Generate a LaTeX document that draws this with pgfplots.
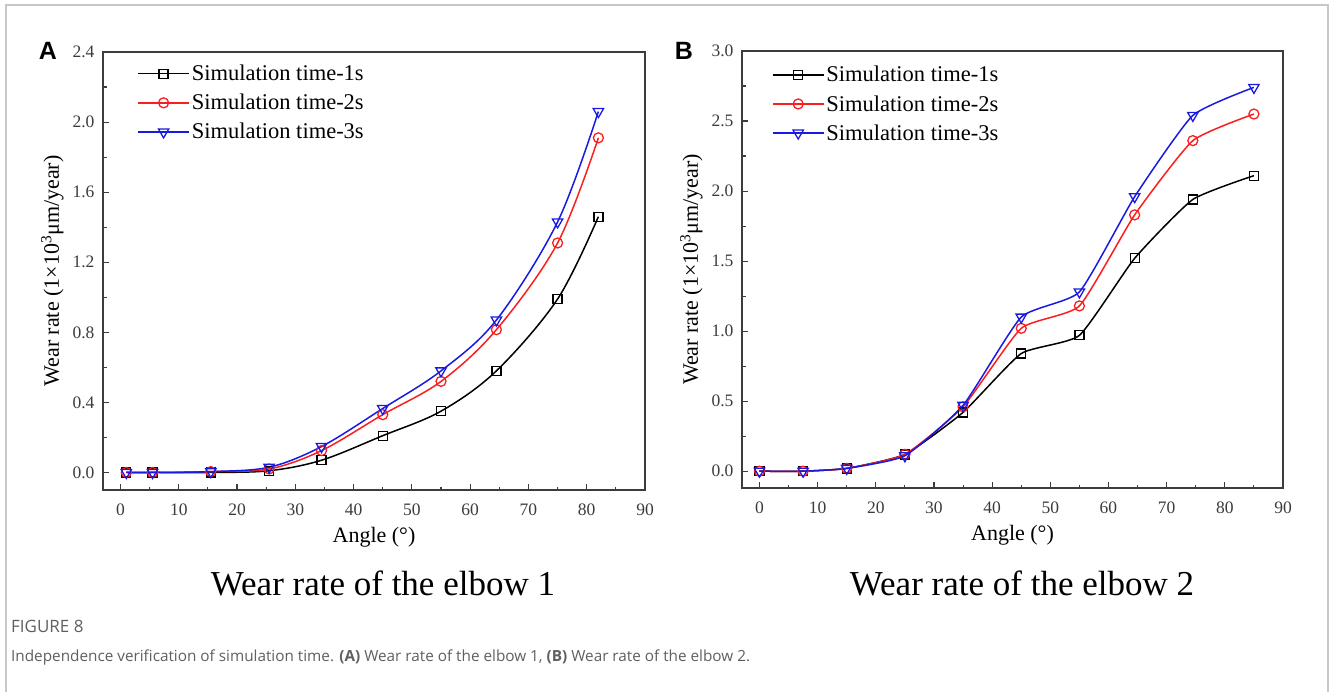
\documentclass[border=0pt]{standalone}
\usepackage{pgfplots}
\pgfplotsset{compat=1.18}
\usepackage{fontspec}
\setmainfont{Liberation Serif}
\newfontfamily\panelfont{Liberation Sans}
\newfontfamily\capfont{Open Sans}
\definecolor{axgray}{RGB}{60,60,60}
\definecolor{capgray}{RGB}{95,95,95}
\definecolor{myred}{RGB}{250,30,30}
\definecolor{myblue}{RGB}{25,25,225}

\pgfplotstableread{
x y1 y2 y3
1    0.00 0.00 0.00
5.5  0.00 0.00 0.00
15.5 0.00 0.005 0.005
25.5 0.01 0.02 0.03
34.5 0.07 0.125 0.148
45   0.21 0.33 0.365
55   0.35 0.52 0.58
64.5 0.58 0.815 0.87
75   0.99 1.31 1.43
82   1.46 1.91 2.06
}\dataA

\pgfplotstableread{
x y1 y2 y3
0    0.00 0.00 0.00
7.5  0.00 0.00 0.00
15   0.02 0.02 0.02
25   0.12 0.12 0.11
35   0.42 0.46 0.47
45   0.84 1.02 1.10
55   0.97 1.18 1.28
64.5 1.52 1.83 1.96
74.5 1.94 2.36 2.54
85   2.11 2.55 2.74
}\dataB

\pgfplotsset{
  elbowaxis/.style={
    scale only axis,
    anchor=south west,
    axis line style={axgray, line width=1.3pt},
    every tick/.style={axgray, line width=1.1pt},
    tick align=inside,
    tick pos=left,
    major tick length=6pt,
    minor tick length=3.5pt,
    minor x tick num=1,
    minor y tick num=1,
    xtick={0,10,20,30,40,50,60,70,80,90},
    xmin=-3, xmax=90,
    /pgf/number format/assume math mode=true,
    ticklabel style={font=\fontsize{17.5}{20}\selectfont, text=axgray},
    yticklabel style={xshift=-5pt, /pgf/number format/.cd, fixed, fixed zerofill, precision=1},
    xticklabel style={yshift=-10pt, /pgf/number format/.cd, fixed, precision=0},
    xlabel={Angle (°)},
    ylabel={Wear rate (1×10\textsuperscript{3}μm/year)},
    xlabel shift=5pt,
    ylabel shift=2pt,
    label style={font=\fontsize{22}{26}\selectfont},
    legend cell align=left,
    legend style={draw=none, fill=none, font=\fontsize{22.5}{27}\selectfont,
      anchor=north west, row sep=8pt, inner sep=0pt},
    legend image code/.code={\draw[mark repeat=2,mark phase=2,#1] plot coordinates {(0pt,0pt) (25.5pt,0pt) (51pt,0pt)};},
    s1/.style={black, line width=1.5pt, smooth, tension=0.55, mark=square, mark size=4.5pt, mark options={fill=white, line width=1.3pt}},
    s2/.style={myred, line width=1.5pt, smooth, tension=0.55, mark=o, mark size=5pt, mark options={fill=white, line width=1.3pt}},
    s3/.style={myblue, line width=1.5pt, smooth, tension=0.55, mark=triangle, mark size=6pt, mark options={rotate=180, fill=white, line width=1.3pt}},
  }
}

\begin{document}
\begin{tikzpicture}
\path[use as bounding box] (0pt,0pt) rectangle (1330pt,-692pt);
\draw[black!22, line width=1.2pt] (6pt,-692pt) -- (6pt,-5pt) -- (1328pt,-5pt) -- (1328pt,-692pt);

\begin{axis}[elbowaxis,
  at={(103pt,-490pt)}, width=542pt, height=438pt,
  ymin=-0.1, ymax=2.4,
  ytick={0,0.4,0.8,1.2,1.6,2.0,2.4},
  legend style={at={(0.063,0.975)}},
]
\addplot[s1] table[x=x,y=y1]{\dataA};
\addlegendentry{Simulation time-1s}
\addplot[s2] table[x=x,y=y2]{\dataA};
\addlegendentry{Simulation time-2s}
\addplot[s3] table[x=x,y=y3]{\dataA};
\addlegendentry{Simulation time-3s}
\end{axis}

\begin{axis}[elbowaxis,
  at={(742pt,-488pt)}, width=541pt, height=437pt,
  ymin=-0.12, ymax=3.0,
  ytick={0,0.5,1.0,1.5,2.0,2.5,3.0},
  legend style={at={(0.055,0.97)}},
  s1/.append style={tension=0.3},
  s2/.append style={tension=0.3},
  s3/.append style={tension=0.3},
]
\addplot[s1] table[x=x,y=y1]{\dataB};
\addlegendentry{Simulation time-1s}
\addplot[s2] table[x=x,y=y2]{\dataB};
\addlegendentry{Simulation time-2s}
\addplot[s3] table[x=x,y=y3]{\dataB};
\addlegendentry{Simulation time-3s}
\end{axis}

\node[font=\panelfont\bfseries\fontsize{25}{28}\selectfont] at (48pt,-51pt) {A};
\node[font=\panelfont\bfseries\fontsize{25}{28}\selectfont] at (684pt,-51pt) {B};

\node[font=\fontsize{35}{40}\selectfont] at (383pt,-583pt) {Wear rate of the elbow 1};
\node[font=\fontsize{35}{40}\selectfont] at (1022pt,-583pt) {Wear rate of the elbow 2};

\node[anchor=west, inner sep=0pt, text=capgray, font=\capfont\fontsize{17}{20}\selectfont] at (11pt,-626pt) {FIGURE 8};
\node[anchor=west, inner sep=0pt, text=capgray, font=\capfont\fontsize{15.3}{18}\selectfont] at (11pt,-657pt) {Independence verification of simulation time. \textbf{(A)} Wear rate of the elbow 1, \textbf{(B)} Wear rate of the elbow 2.};
\end{tikzpicture}
\end{document}
